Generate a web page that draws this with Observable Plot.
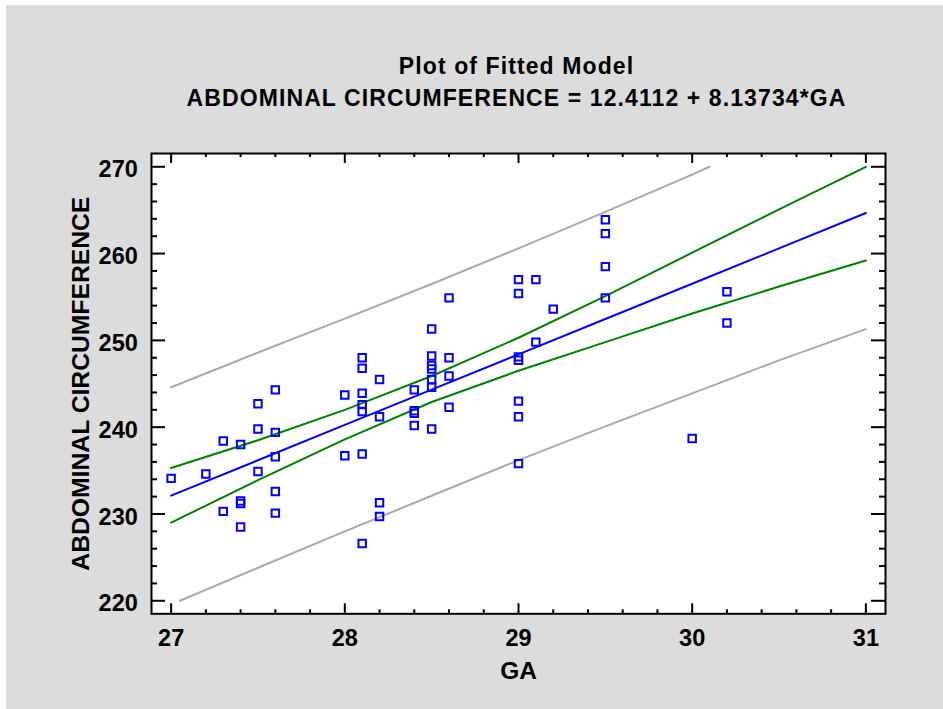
<!DOCTYPE html>
<html><head><meta charset="utf-8">
<script src="https://cdn.jsdelivr.net/npm/d3@7"></script>
<script src="https://cdn.jsdelivr.net/npm/@observablehq/plot@0.6"></script>
<style>
html,body{margin:0;padding:0;background:#fff;overflow:hidden;width:943px;height:709px;}
#page{position:absolute;left:6px;top:5px;width:937px;height:704px;background:#dcdcdc;}
.title{position:absolute;left:94px;width:833px;text-align:center;font-family:"Liberation Sans",Arial,sans-serif;font-weight:bold;font-size:23px;line-height:23px;letter-spacing:1.1px;color:#000;white-space:nowrap;}
#chart{position:absolute;left:0;top:115px;}
</style>
</head><body>
<div id="page">
  <div class="title" id="t1" style="top:49.5px"></div>
  <div class="title" id="t2" style="top:81.5px"></div>
  <div id="chart"></div>
</div>
<script>
// ---- texts ----
const titleText = "Plot of Fitted Model";
const subtitleText = "ABDOMINAL CIRCUMFERENCE = 12.4112 + 8.13734*GA";
const xLabel = "GA";
const yLabel = "ABDOMINAL CIRCUMFERENCE";

// ---- ticks ----
const xMajor = [27, 28, 29, 30, 31];
const xMinor = [27.2, 27.4, 27.6, 27.8, 28.2, 28.4, 28.6, 28.8, 29.2, 29.4, 29.6, 29.8, 30.2, 30.4, 30.6, 30.8];
const yMajor = [220, 230, 240, 250, 260, 270];
const yMinor = [222, 224, 226, 228, 232, 234, 236, 238, 242, 244, 246, 248, 252, 254, 256, 258, 262, 264, 266, 268];

// ---- observations ----
const ga = [27.0, 27.2, 27.3, 27.3, 27.4, 27.4, 27.4, 27.4, 27.5, 27.5, 27.5,
  27.6, 27.6, 27.6, 27.6, 27.6, 28.0, 28.0,
  28.1, 28.1, 28.1, 28.1, 28.1, 28.1, 28.1,
  28.2, 28.2, 28.2, 28.2, 28.4, 28.4, 28.4, 28.4,
  28.5, 28.5, 28.5, 28.5, 28.5, 28.5, 28.5,
  28.6, 28.6, 28.6, 28.6,
  29.0, 29.0, 29.0, 29.0, 29.0, 29.0, 29.0,
  29.1, 29.1, 29.2, 29.5, 29.5, 29.5, 29.5, 30.0, 30.2, 30.2];
const ac = [234.1, 234.6, 238.4, 230.3, 238.0, 231.5, 231.2, 228.5, 242.7, 239.8, 234.9,
  244.3, 239.4, 236.6, 232.6, 230.1, 243.7, 236.7,
  248.0, 246.8, 243.9, 242.6, 241.8, 236.9, 226.6,
  245.5, 241.2, 231.3, 229.7, 244.3, 241.9, 241.6, 240.2,
  251.3, 248.2, 247.1, 246.7, 245.5, 244.6, 239.8,
  254.9, 248.0, 245.9, 242.3,
  257.0, 255.4, 248.1, 247.7, 243.0, 241.2, 235.8,
  257.0, 249.8, 253.6, 263.9, 262.3, 258.5, 254.9, 238.7, 255.6, 252.0];

// ---- fitted line and limits ----
const bandX = [27, 27.5, 28, 28.5, 29, 29.5, 30, 30.5, 31];
const fitY = [232.12, 236.19, 240.26, 244.33, 248.39, 252.46, 256.53, 260.60, 264.67];
const confUpper = [235.3, 238.5, 242.0, 245.9, 250.3, 255.1, 260.1, 265.1, 270.0];
const confLower = [229.0, 233.9, 238.6, 242.9, 246.5, 249.8, 253.1, 256.2, 259.2];
const predUpperX = [27, 27.5, 28, 28.5, 29, 29.5, 30, 30.1];
const predUpper = [244.6, 248.6, 252.5, 256.5, 260.6, 264.8, 269.1, 270.0];
const predLowerX = [27.05, 27.5, 28, 28.5, 29, 29.5, 30, 30.5, 31];
const predLower = [220.0, 223.8, 228.0, 232.1, 236.2, 240.1, 243.9, 247.7, 251.3];

document.getElementById("t1").textContent = titleText;
document.getElementById("t2").textContent = subtitleText;

const pts = ga.map((x, i) => ({x, y: ac[i]}));
const mk = (xs, ys) => xs.map((x, i) => ({x, y: ys[i]}));

const W = 937, H = 589, mL = 145, mR = 58, mT = 33, mB = 95.7;
const plotW = W - mL - mR, plotH = H - mT - mB;
const font = "'Liberation Sans', Arial, sans-serif";

const chart = Plot.plot({
  width: W, height: H,
  marginLeft: mL, marginRight: mR, marginTop: mT, marginBottom: mB,
  style: {background: "transparent", fontFamily: font, fontWeight: "bold", color: "black"},
  x: {domain: [26.887, 31.113]},
  y: {domain: [218.5, 271.53]},
  marks: [
    Plot.frame({fill: "white", stroke: "none"}),
    Plot.line(mk(predUpperX, predUpper), {x: "x", y: "y", stroke: "#a9a9a9", strokeWidth: 2}),
    Plot.line(mk(predLowerX, predLower), {x: "x", y: "y", stroke: "#a9a9a9", strokeWidth: 2}),
    Plot.line(mk(bandX, confUpper), {x: "x", y: "y", stroke: "#008000", strokeWidth: 2}),
    Plot.line(mk(bandX, confLower), {x: "x", y: "y", stroke: "#008000", strokeWidth: 2}),
    Plot.line(mk(bandX, fitY), {x: "x", y: "y", stroke: "#0000ff", strokeWidth: 2}),
    Plot.dot(pts, {x: "x", y: "y", symbol: "square", r: 4.2, stroke: "#0000ff", strokeWidth: 2, fill: "none"}),
    // inward ticks
    Plot.tickX(xMajor, {x: d => d, insetTop: plotH - 10, stroke: "black", strokeWidth: 2}),
    Plot.tickX(xMinor, {x: d => d, insetTop: plotH - 4, stroke: "black", strokeWidth: 2}),
    Plot.tickX(xMajor, {x: d => d, insetBottom: plotH - 10, stroke: "black", strokeWidth: 2}),
    Plot.tickX(xMinor, {x: d => d, insetBottom: plotH - 4, stroke: "black", strokeWidth: 2}),
    Plot.tickY(yMajor, {y: d => d, insetRight: plotW - 14, stroke: "black", strokeWidth: 2}),
    Plot.tickY(yMinor, {y: d => d, insetRight: plotW - 6, stroke: "black", strokeWidth: 2}),
    Plot.tickY(yMajor, {y: d => d, insetLeft: plotW - 14, stroke: "black", strokeWidth: 2}),
    Plot.tickY(yMinor, {y: d => d, insetLeft: plotW - 6, stroke: "black", strokeWidth: 2}),
    Plot.frame({stroke: "black", strokeWidth: 2}),
    Plot.axisX({anchor: "bottom", ticks: xMajor, tickFormat: d => String(d), tickSize: 0, tickPadding: 16, fontSize: 23.5, fontWeight: "bold", label: null}),
    Plot.axisY({anchor: "left", ticks: yMajor, tickFormat: d => String(d), tickSize: 0, tickPadding: 13.7, dy: 3, fontSize: 23.5, fontWeight: "bold", label: null}),
    Plot.text([xLabel], {text: d => d, frameAnchor: "bottom", textAnchor: "middle", dy: 65, lineAnchor: "bottom", fontSize: 24.5, fontWeight: "bold"}),
    Plot.text([yLabel], {text: d => d, frameAnchor: "left", textAnchor: "middle", rotate: -90, dx: -62.7, lineAnchor: "bottom", fontSize: 24.7, fontWeight: "bold"})
  ]
});
document.getElementById("chart").appendChild(chart);
</script>
</body></html>
